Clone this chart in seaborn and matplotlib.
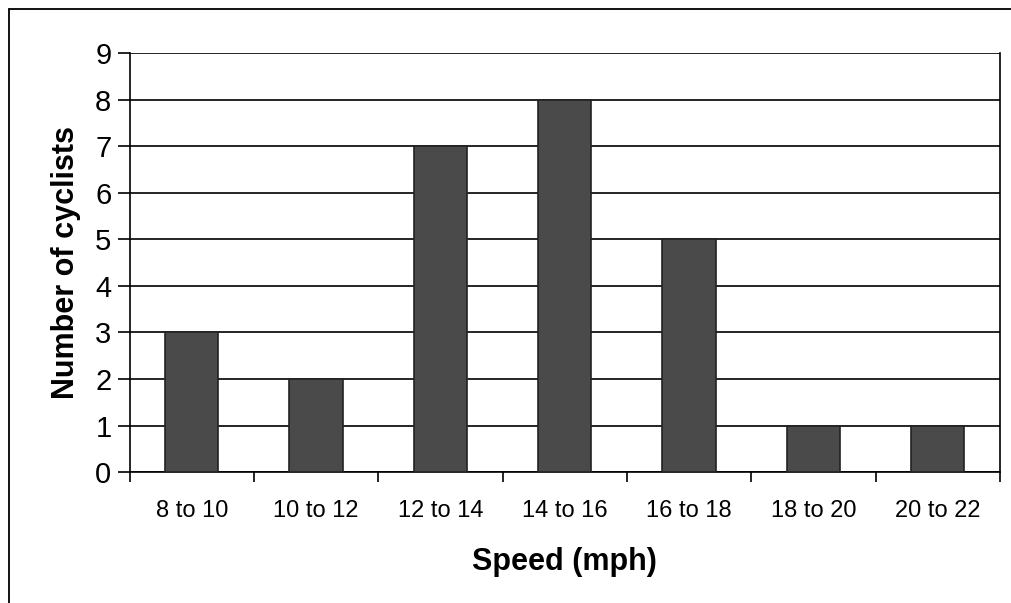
import matplotlib
matplotlib.use("Agg")
import matplotlib.pyplot as plt
import pandas as pd
import seaborn as sns
from matplotlib.lines import Line2D

# Data
speed_bins = ['8 to 10', '10 to 12', '12 to 14', '14 to 16', '16 to 18', '18 to 20', '20 to 22']
cyclists = [3, 2, 7, 8, 5, 1, 1]

df = pd.DataFrame({'Speed': speed_bins, 'Cyclists': cyclists})

sns.set_style("white")
plt.rcParams['font.family'] = ['Liberation Sans', 'DejaVu Sans']
plt.rcParams['text.color'] = 'black'
plt.rcParams['axes.labelcolor'] = 'black'
plt.rcParams['xtick.color'] = 'black'
plt.rcParams['ytick.color'] = 'black'

fig = plt.figure(figsize=(10.12, 6.03), dpi=100)
ax = fig.add_axes([0.128, 0.217, 0.860, 0.695])

sns.barplot(data=df, x='Speed', y='Cyclists', color='#4a4a4a',
            width=0.43, edgecolor='#222222', linewidth=1.2,
            saturation=1, ax=ax, zorder=3)

ax.set_ylim(0, 9)
ax.set_yticks(range(0, 10))
ax.yaxis.grid(True, color='black', linewidth=1.2, zorder=0)
ax.set_xlim(-0.5, len(speed_bins) - 0.5)

# ticks between categories on x, outward ticks on y
ax.set_xticks([i + 0.5 for i in range(-1, len(speed_bins))], minor=True)
ax.tick_params(axis='x', which='minor', length=7, width=1.2, direction='out', color='black', bottom=True)
ax.tick_params(axis='x', which='major', length=0, labelsize=17, pad=20)
ax.tick_params(axis='y', length=9, width=1.2, direction='out', color='black', left=True, labelsize=21, pad=4)

for side in ['left', 'bottom', 'right']:
    ax.spines[side].set_visible(True)
    ax.spines[side].set_color('black')
    ax.spines[side].set_linewidth(1.2)
ax.spines['top'].set_visible(False)

ax.set_xlabel('Speed (mph)', fontsize=22, fontweight='bold', labelpad=18)
ax.set_ylabel('Number of cyclists', fontsize=22, fontweight='bold', labelpad=10)

# outer frame of the scanned figure
fig.add_artist(Line2D([0.009, 0.009], [0.0, 0.985], transform=fig.transFigure, color='black', linewidth=1.3))
fig.add_artist(Line2D([0.009, 1.0], [0.985, 0.985], transform=fig.transFigure, color='black', linewidth=1.3))

fig.savefig('out.png', dpi=100)
